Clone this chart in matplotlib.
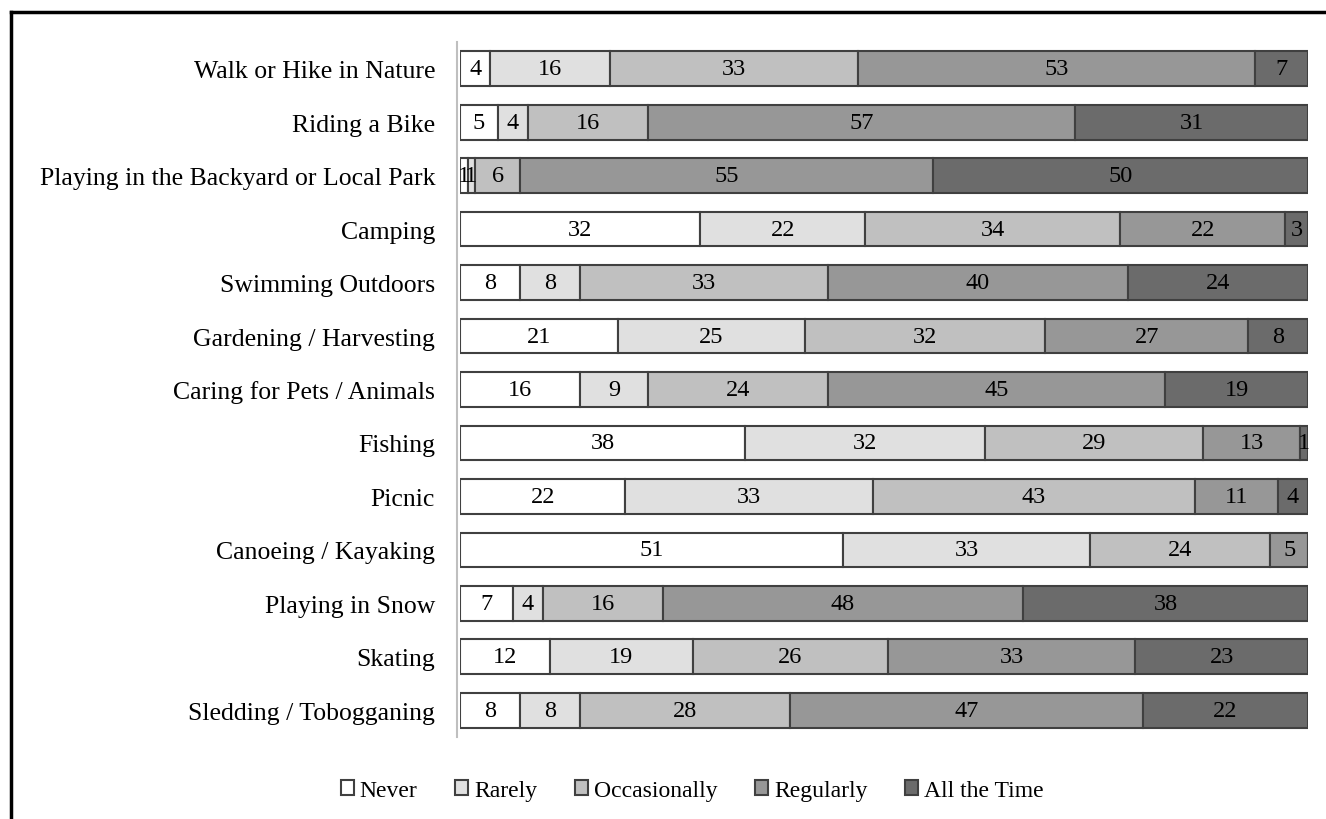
import matplotlib.pyplot as plt
from matplotlib.lines import Line2D

plt.rcParams['font.family'] = ['Liberation Serif', 'DejaVu Serif']

# Activities, top to bottom
activities = [
    "Walk or Hike in Nature",
    "Riding a Bike",
    "Playing in the Backyard or Local Park",
    "Camping",
    "Swimming Outdoors",
    "Gardening / Harvesting",
    "Caring for Pets / Animals",
    "Fishing",
    "Picnic",
    "Canoeing / Kayaking",
    "Playing in Snow",
    "Skating",
    "Sledding / Tobogganing",
]

levels = ["Never", "Rarely", "Occasionally", "Regularly", "All the Time"]

never = [4, 5, 1, 32, 8, 21, 16, 38, 22, 51, 7, 12, 8]
rarely = [16, 4, 1, 22, 8, 25, 9, 32, 33, 33, 4, 19, 8]
occasionally = [33, 16, 6, 34, 33, 32, 24, 29, 43, 24, 16, 26, 28]
regularly = [53, 57, 55, 22, 40, 27, 45, 13, 11, 5, 48, 33, 47]
all_the_time = [7, 31, 50, 3, 24, 8, 19, 1, 4, 0, 38, 23, 22]

series = [never, rarely, occasionally, regularly, all_the_time]
colors = ["#ffffff", "#e0e0e0", "#c0c0c0", "#979797", "#6b6b6b"]

fig = plt.figure(figsize=(13.26, 8.2), dpi=100)
ax = fig.add_axes([0.347, 0.1, 0.6394, 0.8476])

y = list(range(len(activities)))
left = [0] * len(activities)
for name, vals, col in zip(levels, series, colors):
    ax.barh(y, vals, left=left, height=0.65, color=col,
            edgecolor="#404040", linewidth=1.5, label=name)
    for i, v in enumerate(vals):
        if v > 0:
            ax.text(left[i] + v / 2, i, str(v), ha="center", va="center",
                    fontsize=17.5, color="black")
    left = [a + b for a, b in zip(left, vals)]

ax.set_xlim(0, 113)
ax.set_ylim(12.5, -0.5)
ax.set_yticks(y)
ax.set_yticklabels(activities)
ax.set_xticks([])
ax.tick_params(axis="y", length=0, pad=16, labelsize=18.5)
for s in ["top", "right", "bottom"]:
    ax.spines[s].set_visible(False)
ax.spines["left"].set_color("#bfbfbf")
ax.spines["left"].set_linewidth(1.5)
ax.spines["left"].set_position(("outward", 2))

leg = ax.legend(loc="center", bbox_to_anchor=(0.522, 0.035), bbox_transform=fig.transFigure,
                ncol=5, frameon=False, fontsize=17, handlelength=0.55, handleheight=0.55,
                handletextpad=0.25, columnspacing=1.6)

# outer frame (top and left edges)
fig.add_artist(Line2D([10.5 / 1326, 1.0], [1 - 13 / 820, 1 - 13 / 820],
                      color="black", linewidth=2.5, transform=fig.transFigure))
fig.add_artist(Line2D([10.5 / 1326, 10.5 / 1326], [0.0, 1 - 13 / 820],
                      color="black", linewidth=2.5, transform=fig.transFigure))

fig.savefig("out.png", dpi=100)
